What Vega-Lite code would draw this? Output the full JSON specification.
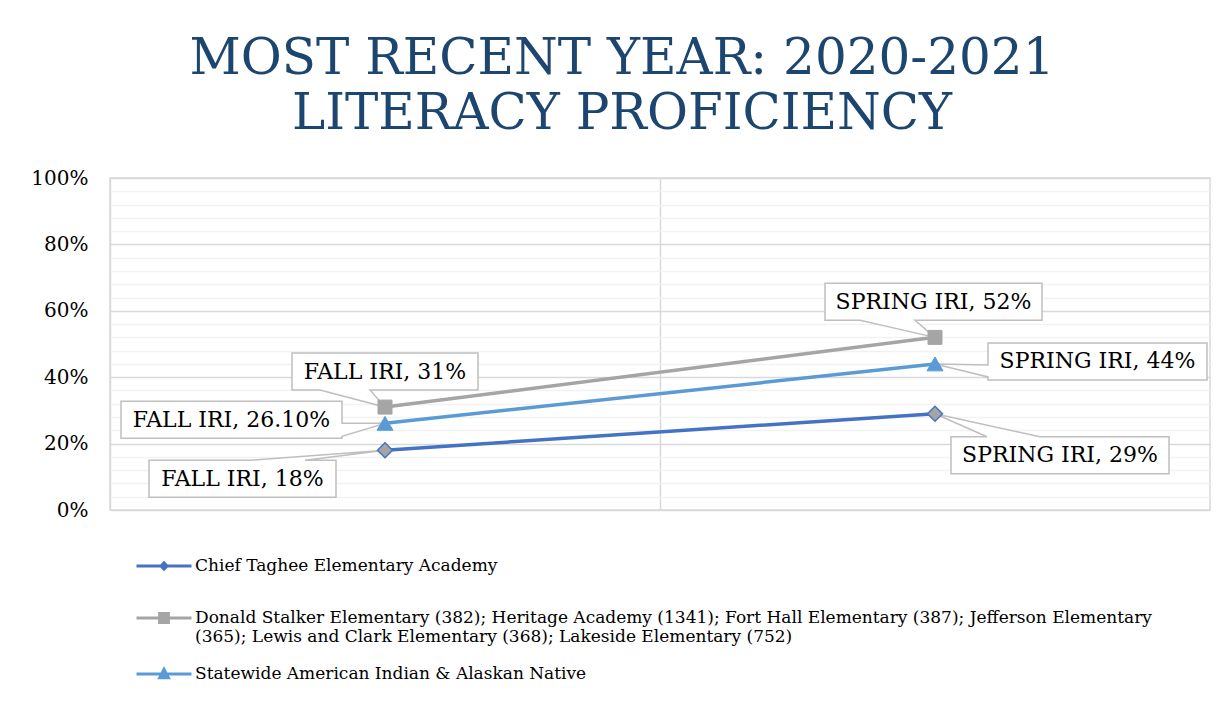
{
  "$schema": "https://vega.github.io/schema/vega-lite/v6.json",
  "width": 1100,
  "height": 332,
  "autosize": {"type": "none"},
  "padding": {"left": 110, "top": 178, "right": 20, "bottom": 196},
  "background": "#ffffff",
  "title": {
    "text": ["MOST RECENT YEAR: 2020-2021", "LITERACY PROFICIENCY"],
    "font": "DejaVu Serif",
    "fontSize": 50,
    "fontWeight": "normal",
    "color": "#1c4670",
    "anchor": "middle",
    "frame": "group",
    "dx": -38,
    "lineHeight": 55,
    "offset": 29
  },
  "data": {
    "values": [
      {"series": "Chief Taghee Elementary Academy", "term": "FALL IRI", "value": 0.18, "label": "FALL IRI, 18%"},
      {"series": "Chief Taghee Elementary Academy", "term": "SPRING IRI", "value": 0.29, "label": "SPRING IRI, 29%"},
      {"series": "Donald Stalker Elementary (382); Heritage Academy (1341); Fort Hall Elementary (387); Jefferson Elementary (365); Lewis and Clark Elementary (368); Lakeside Elementary (752)", "term": "FALL IRI", "value": 0.31, "label": "FALL IRI, 31%"},
      {"series": "Donald Stalker Elementary (382); Heritage Academy (1341); Fort Hall Elementary (387); Jefferson Elementary (365); Lewis and Clark Elementary (368); Lakeside Elementary (752)", "term": "SPRING IRI", "value": 0.52, "label": "SPRING IRI, 52%"},
      {"series": "Statewide American Indian & Alaskan Native", "term": "FALL IRI", "value": 0.261, "label": "FALL IRI, 26.10%"},
      {"series": "Statewide American Indian & Alaskan Native", "term": "SPRING IRI", "value": 0.44, "label": "SPRING IRI, 44%"}
    ]
  },
  "encoding": {
    "x": {
      "field": "term",
      "type": "nominal",
      "scale": {"type": "band", "domain": ["FALL IRI", "SPRING IRI"], "paddingInner": 0, "paddingOuter": 0},
      "axis": {"title": null, "labels": false, "ticks": false, "domain": false, "grid": true, "gridColor": "#d9d9d9", "gridWidth": 1.5, "bandPosition": 0}
    },
    "y": {
      "field": "value",
      "type": "quantitative",
      "scale": {"domain": [0, 1], "nice": false},
      "axis": {
        "title": null,
        "values": [0, 0.04, 0.08, 0.12, 0.16, 0.2, 0.24, 0.28, 0.32, 0.36, 0.4, 0.44, 0.48, 0.52, 0.56, 0.6, 0.64, 0.68, 0.72, 0.76, 0.8, 0.84, 0.88, 0.92, 0.96, 1],
        "format": ".0%",
        "labelExpr": "round(datum.value*100) % 20 == 0 ? datum.label : ''",
        "ticks": false,
        "domain": false,
        "grid": true,
        "gridColor": {"condition": {"test": "round(datum.value*100) % 20 == 0", "value": "#d9d9d9"}, "value": "#f2f2f2"},
        "gridWidth": 1.5,
        "labelFont": "DejaVu Serif",
        "labelFontSize": 20,
        "labelColor": "#000000",
        "labelPadding": 22
      }
    }
  },
  "layer": [
    {
      "mark": {"type": "line", "strokeWidth": 3.5},
      "encoding": {
        "color": {
          "field": "series",
          "type": "nominal",
          "scale": {
            "domain": ["Chief Taghee Elementary Academy", "Donald Stalker Elementary (382); Heritage Academy (1341); Fort Hall Elementary (387); Jefferson Elementary (365); Lewis and Clark Elementary (368); Lakeside Elementary (752)", "Statewide American Indian & Alaskan Native"],
            "range": ["#4472C4", "#A5A5A5", "#5B9BD5"]
          },
          "legend": {
            "title": null,
            "orient": "none",
            "legendX": 25,
            "legendY": 359,
            "direction": "vertical",
            "labelFont": "DejaVu Serif",
            "labelFontSize": 17,
            "labelColor": "#000000",
            "labelLimit": 0,
            "labelOffset": 2,
            "rowPadding": -10,
            "symbolSize": 3025,
            "labelExpr": "indexof(datum.label, 'Donald') == 0 ? ['Donald Stalker Elementary (382); Heritage Academy (1341); Fort Hall Elementary (387); Jefferson Elementary', '(365); Lewis and Clark Elementary (368); Lakeside Elementary (752)'] : datum.label",
            "encode": {
              "symbols": {
                "update": {
                  "shape": {"signal": "datum.value == 'Chief Taghee Elementary Academy' ? 'M0,-0.6M0,0.6M-1,0L1,0M-0.11,0L0,-0.11L0.11,0L0,0.11Z' : (indexof(datum.value, 'Donald') == 0 ? 'M0,-0.6M0,0.6M-1,0L1,0M-0.16,-0.16L0.16,-0.16L0.16,0.16L-0.16,0.16Z' : 'M0,-0.6M0,0.6M-1,0L1,0M-0.16,0.14L0,-0.17L0.16,0.14Z')"},
                  "fill": {"signal": "datum.value == 'Chief Taghee Elementary Academy' ? '#A5A5A5' : (indexof(datum.value, 'Donald') == 0 ? '#A5A5A5' : '#5B9BD5')"},
                  "strokeWidth": {"value": 3},
                  "size": {"value": 3025},
                  "opacity": {"value": 1}
                }
              }
            }
          }
        }
      }
    },
    {
      "transform": [{"filter": "datum.label == 'FALL IRI, 18%'"}],
      "layer": [
        {"mark": {"type": "point", "shape": "M-236,10L-135,10L0,0L-80,10L-49,10L-49,47L-236,47Z", "size": 4, "filled": true, "fill": "#ffffff", "stroke": "#bfbfbf", "strokeWidth": 1.5, "opacity": 1}},
        {"mark": {"type": "text", "dx": -142.5, "dy": 28.5, "font": "DejaVu Serif", "fontSize": 22, "color": "#000000", "align": "center", "baseline": "middle"}, "encoding": {"text": {"field": "label"}}}
      ]
    },
    {
      "transform": [{"filter": "datum.label == 'FALL IRI, 26.10%'"}],
      "layer": [
        {"mark": {"type": "point", "shape": "M-264,-22L-43,-22L-43,0L0,0L-43,13L-43,15L-264,15Z", "size": 4, "filled": true, "fill": "#ffffff", "stroke": "#bfbfbf", "strokeWidth": 1.5, "opacity": 1}},
        {"mark": {"type": "text", "dx": -153.5, "dy": -3.5, "font": "DejaVu Serif", "fontSize": 22, "color": "#000000", "align": "center", "baseline": "middle"}, "encoding": {"text": {"field": "label"}}}
      ]
    },
    {
      "transform": [{"filter": "datum.label == 'FALL IRI, 31%'"}],
      "layer": [
        {"mark": {"type": "point", "shape": "M-93,-54L93,-54L93,-17L-15,-17L0,0L-65,-17L-93,-17Z", "size": 4, "filled": true, "fill": "#ffffff", "stroke": "#bfbfbf", "strokeWidth": 1.5, "opacity": 1}},
        {"mark": {"type": "text", "dx": 0, "dy": -35.5, "font": "DejaVu Serif", "fontSize": 22, "color": "#000000", "align": "center", "baseline": "middle"}, "encoding": {"text": {"field": "label"}}}
      ]
    },
    {
      "transform": [{"filter": "datum.label == 'SPRING IRI, 52%'"}],
      "layer": [
        {"mark": {"type": "point", "shape": "M-110,-54L107,-54L107,-17L-20,-17L0,0L-75,-17L-110,-17Z", "size": 4, "filled": true, "fill": "#ffffff", "stroke": "#bfbfbf", "strokeWidth": 1.5, "opacity": 1}},
        {"mark": {"type": "text", "dx": -1.5, "dy": -35.5, "font": "DejaVu Serif", "fontSize": 22, "color": "#000000", "align": "center", "baseline": "middle"}, "encoding": {"text": {"field": "label"}}}
      ]
    },
    {
      "transform": [{"filter": "datum.label == 'SPRING IRI, 44%'"}],
      "layer": [
        {"mark": {"type": "point", "shape": "M53,-21L272,-21L272,16L53,16L53,13L0,0L53,1Z", "size": 4, "filled": true, "fill": "#ffffff", "stroke": "#bfbfbf", "strokeWidth": 1.5, "opacity": 1}},
        {"mark": {"type": "text", "dx": 162.5, "dy": -2.5, "font": "DejaVu Serif", "fontSize": 22, "color": "#000000", "align": "center", "baseline": "middle"}, "encoding": {"text": {"field": "label"}}}
      ]
    },
    {
      "transform": [{"filter": "datum.label == 'SPRING IRI, 29%'"}],
      "layer": [
        {"mark": {"type": "point", "shape": "M16,23L52,23L0,0L105,23L234,23L234,60L16,60Z", "size": 4, "filled": true, "fill": "#ffffff", "stroke": "#bfbfbf", "strokeWidth": 1.5, "opacity": 1}},
        {"mark": {"type": "text", "dx": 125, "dy": 41.5, "font": "DejaVu Serif", "fontSize": 22, "color": "#000000", "align": "center", "baseline": "middle"}, "encoding": {"text": {"field": "label"}}}
      ]
    },
    {
      "transform": [{"filter": "datum.series == 'Chief Taghee Elementary Academy'"}],
      "mark": {"type": "point", "shape": "diamond", "size": 225, "filled": true, "fill": "#A5A5A5", "stroke": "#4472C4", "strokeWidth": 1.5, "opacity": 1}
    },
    {
      "transform": [{"filter": "indexof(datum.series, 'Donald') == 0"}],
      "mark": {"type": "point", "shape": "square", "size": 196, "filled": true, "fill": "#A5A5A5", "stroke": "#A5A5A5", "strokeWidth": 1, "opacity": 1}
    },
    {
      "transform": [{"filter": "datum.series == 'Statewide American Indian & Alaskan Native'"}],
      "mark": {"type": "point", "shape": "triangle-up", "size": 256, "filled": true, "fill": "#5B9BD5", "stroke": "#5B9BD5", "strokeWidth": 1, "opacity": 1}
    }
  ],
  "config": {
    "view": {"stroke": "#d9d9d9", "strokeWidth": 1.5}
  }
}
